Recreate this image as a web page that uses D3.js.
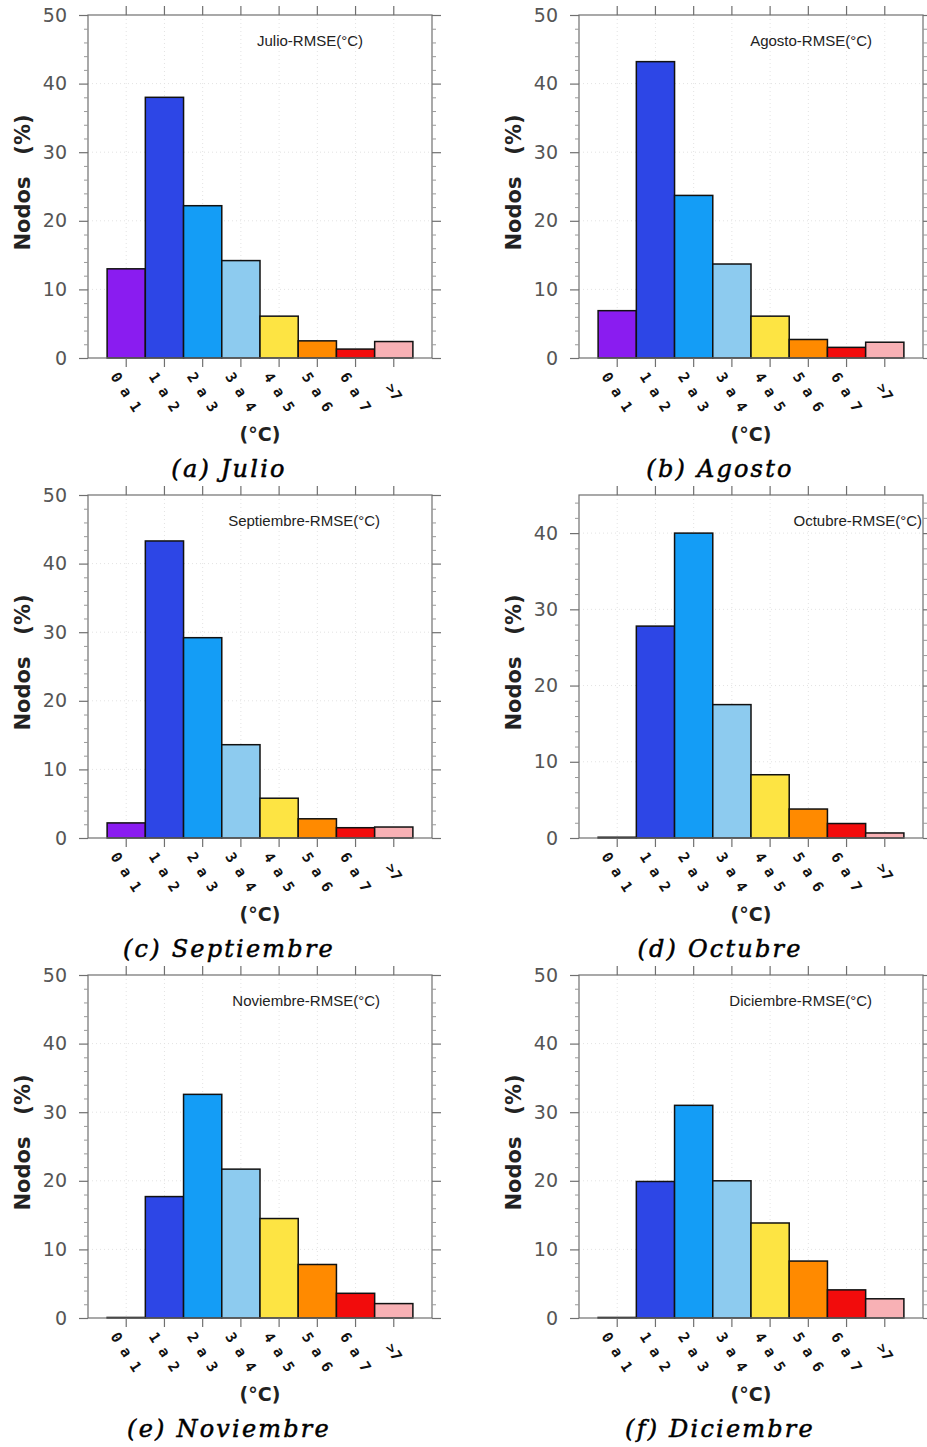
<!DOCTYPE html>
<html>
<head>
<meta charset="utf-8">
<script src="https://cdn.jsdelivr.net/npm/d3@7"></script>
<style>
  html, body { margin: 0; padding: 0; background: #fff; }
  svg { display: block; }
</style>
</head>
<body>
<div id="chart"></div>
<script>
// ---------- DATA ----------
const categories = ["0 a 1", "1 a 2", "2 a 3", "3 a 4", "4 a 5", "5 a 6", "6 a 7", ">7"];
const barColors = ["#8a1cf0", "#2d46e6", "#149df6", "#8dcbef", "#fde443", "#ff8a00", "#f20c0c", "#f8b1b5"];

const julio      = [13.0, 38.0, 22.2, 14.2, 6.1, 2.5, 1.3, 2.4];
const agosto     = [6.9, 43.2, 23.7, 13.7, 6.1, 2.7, 1.55, 2.3];
const septiembre = [2.2, 43.3, 29.2, 13.6, 5.8, 2.8, 1.5, 1.6];
const octubre    = [0.1, 27.8, 40.0, 17.5, 8.3, 3.8, 1.9, 0.66];
const noviembre  = [0.08, 17.7, 32.6, 21.7, 14.5, 7.8, 3.6, 2.1];
const diciembre  = [0.08, 19.9, 31.0, 20.0, 13.85, 8.3, 4.1, 2.8];

const seriesList = [julio, agosto, septiembre, octubre, noviembre, diciembre];
const panelTitles = ["Julio-RMSE(°C)", "Agosto-RMSE(°C)", "Septiembre-RMSE(°C)",
                     "Octubre-RMSE(°C)", "Noviembre-RMSE(°C)", "Diciembre-RMSE(°C)"];
const captions = ["(a) Julio", "(b) Agosto", "(c) Septiembre", "(d) Octubre", "(e) Noviembre", "(f) Diciembre"];
const yMaxes = [50, 50, 50, 45, 50, 50];
const yMajorTicks = [0, 10, 20, 30, 40, 50];
const yLabel = "Nodos   (%)";
const xLabel = "(°C)";

// ---------- LAYOUT ----------
const W = 927, H = 1447;
const colLeft = [88, 579];
const rowTop = [15, 495, 975];
const plotW = 344, plotH = 343;
const titleRight = [275, 293, 292, 343, 292, 293];

const svg = d3.select("#chart").append("svg")
  .attr("width", W).attr("height", H)
  .attr("viewBox", `0 0 ${W} ${H}`);
svg.append("rect").attr("width", W).attr("height", H).attr("fill", "#fff");

const axisColor = "#707070";

seriesList.forEach((vals, p) => {
  const left = colLeft[p % 2];
  const top = rowTop[Math.floor(p / 2)];
  const g = svg.append("g").attr("transform", `translate(${left},${top})`);
  const yMax = yMaxes[p];

  const x = d3.scaleBand().domain(categories).range([0, plotW]).paddingInner(0).paddingOuter(0.5);
  const y = d3.scaleLinear().domain([0, yMax]).range([plotH, 0]);

  const majors = yMajorTicks.filter(v => v <= yMax);
  const minors = d3.range(0, yMax + 0.001, 2).filter(v => v % 10 !== 0);

  // faint dotted grid
  const grid = g.append("g").attr("stroke", "#e3e3e3").attr("stroke-width", 1).attr("stroke-dasharray", "1,3");
  majors.filter(v => v > 0 && v < yMax).forEach(v => {
    grid.append("line").attr("x1", 0).attr("x2", plotW).attr("y1", y(v)).attr("y2", y(v));
  });
  categories.forEach(c => {
    const cx = x(c) + x.bandwidth() / 2;
    grid.append("line").attr("x1", cx).attr("x2", cx).attr("y1", 0).attr("y2", plotH);
  });

  // bars
  g.append("g").selectAll("rect").data(vals).join("rect")
    .attr("x", (d, i) => x(categories[i]))
    .attr("y", d => y(d))
    .attr("width", x.bandwidth())
    .attr("height", d => plotH - y(d))
    .attr("fill", (d, i) => barColors[i])
    .attr("stroke", "#111")
    .attr("stroke-width", 1.5);

  // frame
  g.append("rect").attr("x", 0).attr("y", 0).attr("width", plotW).attr("height", plotH)
    .attr("fill", "none").attr("stroke", axisColor).attr("stroke-width", 1.2);

  const styleAxis = (sel, showLabels) => {
    sel.select(".domain").remove();
    sel.selectAll(".tick line").attr("stroke", axisColor).attr("stroke-width", 1.2);
    if (!showLabels) sel.selectAll(".tick text").remove();
  };

  // left axis major with labels
  const yl = g.append("g").call(d3.axisLeft(y).tickValues(majors).tickSize(9).tickPadding(12).tickFormat(d3.format("d")));
  styleAxis(yl, true);
  yl.selectAll(".tick text").attr("font-family", "DejaVu Sans").attr("font-size", 19).attr("fill", "#555");
  // left minor
  const ylm = g.append("g").call(d3.axisLeft(y).tickValues(minors).tickSize(4));
  styleAxis(ylm, false);
  ylm.selectAll(".tick line").attr("stroke", "#999").attr("stroke-width", 1);
  // right major & minor
  const yr = g.append("g").attr("transform", `translate(${plotW},0)`).call(d3.axisRight(y).tickValues(majors).tickSize(9));
  styleAxis(yr, false);
  const yrm = g.append("g").attr("transform", `translate(${plotW},0)`).call(d3.axisRight(y).tickValues(minors).tickSize(4));
  styleAxis(yrm, false);
  yrm.selectAll(".tick line").attr("stroke", "#999").attr("stroke-width", 1);

  // bottom axis
  const xb = g.append("g").attr("transform", `translate(0,${plotH})`).call(d3.axisBottom(x).tickSize(9));
  styleAxis(xb, true);
  xb.selectAll(".tick text")
    .attr("font-family", "DejaVu Sans Mono").attr("font-weight", "bold").attr("font-size", 14.5)
    .attr("fill", "#111")
    .attr("text-anchor", "middle")
    .attr("y", 0).attr("dy", "0.35em")
    .attr("transform", "translate(0,34) rotate(57)")
    .style("white-space", "pre");
  // top axis
  const xt = g.append("g").call(d3.axisTop(x).tickSize(9));
  styleAxis(xt, false);

  // panel title
  g.append("text").attr("x", titleRight[p]).attr("y", 31)
    .attr("text-anchor", "end").attr("font-family", "Liberation Sans").attr("font-size", 15)
    .attr("fill", "#222").text(panelTitles[p]);

  // y label
  g.append("text")
    .attr("transform", `translate(${-65},${plotH / 2 - 4}) rotate(-90)`)
    .attr("text-anchor", "middle").attr("dy", "0.35em")
    .attr("font-family", "DejaVu Sans").attr("font-weight", "bold").attr("font-size", 21)
    .attr("fill", "#222").style("white-space", "pre").text(yLabel);

  // x label
  g.append("text").attr("x", plotW / 2).attr("y", plotH + 83)
    .attr("text-anchor", "middle")
    .attr("font-family", "DejaVu Sans").attr("font-weight", "bold").attr("font-size", 19)
    .attr("fill", "#222").text(xLabel);

  // caption
  g.append("text").attr("x", 141).attr("y", 462)
    .attr("text-anchor", "middle")
    .attr("font-family", "DejaVu Serif").attr("font-style", "italic")
    .attr("font-size", 24).attr("letter-spacing", 2.2)
    .attr("stroke", "#000").attr("stroke-width", 0.5)
    .attr("fill", "#000").style("white-space", "pre").text(captions[p]);
});
</script>
</body>
</html>
